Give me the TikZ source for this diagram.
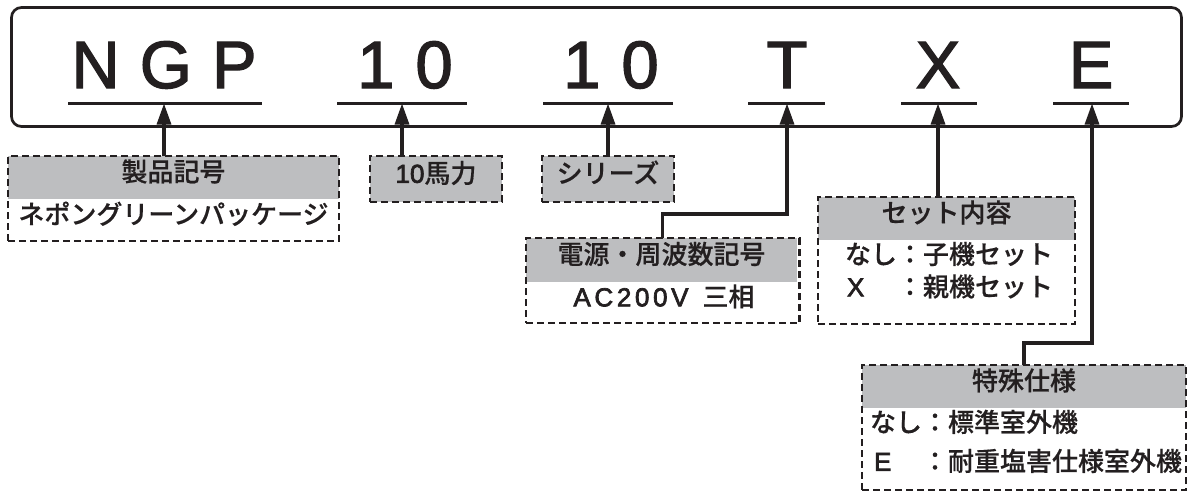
\documentclass[tikz,border=0pt]{standalone}
\usepackage{fontspec}
\setmainfont{Noto Sans CJK JP}[UprightFont=* Medium,FakeBold=0.4]
\newfontfamily\bigfont{Liberation Sans}
\newfontfamily\latinbox{Liberation Sans}[LetterSpace=14]
\newfontfamily\latinplain{Liberation Sans}
\newcommand{\embold}[2]{\special{pdf:literal direct 2 Tr #1 w}#2\special{pdf:literal direct 0 Tr}}
\usetikzlibrary{arrows.meta,fit}
\definecolor{boxgray}{RGB}{189,190,192}
\definecolor{ink}{RGB}{35,31,32}
\begin{document}
\begin{tikzpicture}[x=1pt,y=-1pt,
  every node/.style={inner sep=0pt,outer sep=0pt,text=ink},
  bigtxt/.style={font=\bigfont\fontsize{67}{70}\selectfont,anchor=base},
  ul/.style={draw=ink,line width=3pt},
  frame/.style={draw=ink,line width=2.7pt,rounded corners=10pt},
  boxtxt/.style={font=\fontsize{26}{30}\selectfont,text height=0.88em,text depth=0.12em},
  hdr/.style={boxtxt,fill=boxgray},
  bdy/.style={boxtxt},
  dbox/.style={draw=ink,line width=2.9pt,dash pattern=on 7pt off 4pt,inner sep=0pt},
  conn/.style={draw=ink,line width=3.2pt,-{Triangle[length=21pt,width=14pt]}},
  linetxt/.style={boxtxt,anchor=west}
]
\useasboundingbox (0,0) rectangle (1190,491);

% outer frame
\draw[frame] (11.5,7.5) rectangle (1181.5,126.5);

% code letters
\node[bigtxt] (cNGP) at (164,88) {\embold{1.3}{N\kern20pt G\kern20pt P}};
\node[bigtxt] (cHP) at (405,88) {\embold{1.3}{1\kern21pt 0}};
\node[bigtxt] (cSer) at (611,88) {\embold{1.3}{1\kern21pt 0}};
\node[bigtxt] (cT) at (787,88) {\embold{1.3}{T}};
\node[bigtxt] (cX) at (938,88) {\embold{1.3}{X}};
\node[bigtxt] (cE) at (1091,88) {\embold{1.3}{E}};

% underlines
\draw[ul] (68,103) -- (262,103);
\draw[ul] (337,103) -- (467,103);
\draw[ul] (543,103) -- (673,103);
\draw[ul] (748,103) -- (825,103);
\draw[ul] (901,103) -- (977,103);
\draw[ul] (1053,103) -- (1129,103);

% arrow tip points
\coordinate (u1) at (164,103.5);
\coordinate (u2) at (402,103.5);
\coordinate (u3) at (608,103.5);
\coordinate (u4) at (787,103.5);
\coordinate (u5) at (938,103.5);
\coordinate (u6) at (1092,103.5);

% box 1: product code
\node[hdr,minimum width=331pt,minimum height=43pt] (h1) at (173.5,177.5) {製品記号};
\node[bdy,minimum width=331pt,minimum height=42pt] (b1) at (173.5,220) {ネポングリーンパッケージ};
\node[dbox,fit=(h1)(b1)] (f1) {};

% box 2: horsepower
\node[hdr,dbox,minimum width=132pt,minimum height=46pt] (f2) at (436,179) {{\latinplain\embold{0.7}{10}}馬力};

% box 3: series
\node[hdr,dbox,minimum width=132pt,minimum height=46pt] (f3) at (608,179) {シリーズ};

% box 4: power supply
\node[hdr,minimum width=271pt,minimum height=44pt] (h4) at (661.5,260) {電源・周波数記号};
\node[bdy,minimum width=271pt,minimum height=41pt] (b4) at (664,302.5) {{\latinbox\embold{0.7}{AC200V}}\hspace{14pt}三相};
\node[dbox,fit=(h4)(b4)] (f4) {};

% box 5: set contents
\node[hdr,minimum width=257pt,minimum height=43pt] (h5) at (946.5,218.5) {セット内容};
\node[bdy,minimum width=257pt,minimum height=84pt] (b5) at (946.5,282) {};
\node[dbox,fit=(h5)(b5)] (f5) {};
\node[linetxt] (l5a) at (845,260) {なし：子機セット};
\node[linetxt] (l5b) at (845,292.5) {\makebox[2em][l]{\hspace{2pt}\latinplain\embold{0.7}{X}}：親機セット};

% box 6: special spec
\node[hdr,minimum width=324pt,minimum height=43pt] (h6) at (1024,386.5) {特殊仕様};
\node[bdy,minimum width=324pt,minimum height=82pt] (b6) at (1024,449) {};
\node[dbox,fit=(h6)(b6)] (f6) {};
\node[linetxt] (l6a) at (870,428) {なし：標準室外機};
\node[linetxt] (l6b) at (870,467) {\makebox[2em][l]{\hspace{4pt}\latinplain\embold{0.7}{E}}：耐重塩害仕様室外機};

% connectors
\draw[conn] (u1 |- f1.north) -- (u1);
\draw[conn] (u2 |- f2.north) -- (u2);
\draw[conn] (u3 |- f3.north) -- (u3);
\draw[conn] (f4.north) -- ++(0,-24) -| (u4);
\draw[conn] (u5 |- f5.north) -- (u5);
\draw[conn] (f6.north) -- ++(0,-22) -| (u6);
\end{tikzpicture}
\end{document}
